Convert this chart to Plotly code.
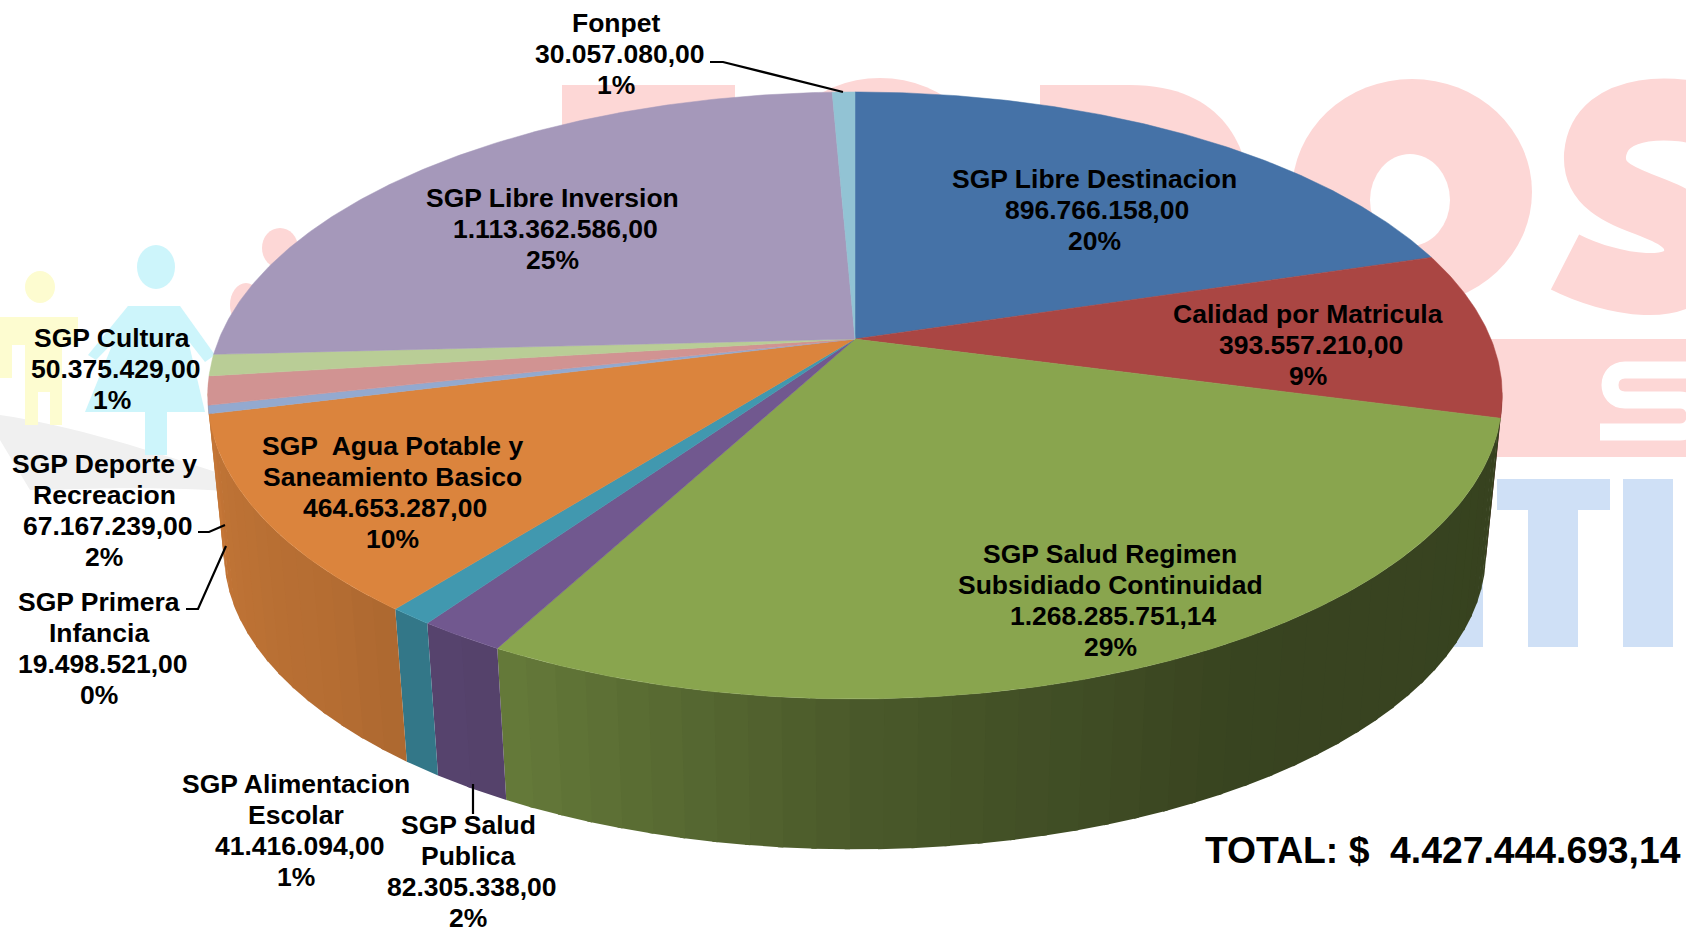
import math
import plotly.graph_objects as go

categories = ["SGP Libre Destinacion", "Calidad por Matricula", "SGP Salud Regimen Subsidiado Continuidad",
              "SGP Salud Publica", "SGP Alimentacion Escolar", "SGP Agua Potable y Saneamiento Basico",
              "SGP Primera Infancia", "SGP Deporte y Recreacion", "SGP Cultura", "SGP Libre Inversion", "Fonpet"]
values = [896766158.00, 393557210.00, 1268285751.14, 82305338.00, 41416094.00, 464653287.00,
          19498521.00, 67167239.00, 50375429.00, 1113362586.00, 30057080.00]
colors = ["#4572A7", "#AA4643", "#89A54E", "#71588F", "#4198AF", "#DB843D",
          "#93A9CF", "#D19392", "#B9CD96", "#A598BA", "#92C3D4"]
label_lines = [
    ["SGP Libre Destinacion", "896.766.158,00", "20%"],
    ["Calidad por Matricula", "393.557.210,00", "9%"],
    ["SGP Salud Regimen", "Subsidiado Continuidad", "1.268.285.751,14", "29%"],
    ["SGP Salud", "Publica", "82.305.338,00", "2%"],
    ["SGP Alimentacion", "Escolar", "41.416.094,00", "1%"],
    ["SGP\u00a0 Agua Potable y", "Saneamiento Basico", "464.653.287,00", "10%"],
    ["SGP Primera", "Infancia", "19.498.521,00", "0%"],
    ["SGP Deporte y", "Recreacion", "67.167.239,00", "2%"],
    ["SGP Cultura", "50.375.429,00", "1%"],
    ["SGP Libre Inversion", "1.113.362.586,00", "25%"],
    ["Fonpet", "30.057.080,00", "1%"],
]
label_centres = [(1094, 210), (1308, 345), (1110, 600), (468, 871), (296, 830), (392, 492),
                 (99, 648), (104, 510), (112, 369), (552, 229), (616, 54)]
total_text = "TOTAL: $\u00a0 4.427.444.693,14"

PINK, BLUE, CYAN, YELLOW, GREY = "#FDD7D6", "#CFE0F6", "#CDF5FB", "#FDFCD0", "#F0F0F0"
K = 0.186
LAST_SIDE_SLICE = 5  # the orange wall runs out to the silhouette; thinner slices behind it are not seen


def top(t):
    r = math.radians(t)
    d = 1 + K * math.cos(r)
    return 855 + 636 * math.sin(r) / d, 339 - 293 * math.cos(r) / d


def bottom(t):
    r = math.radians(t)
    d = 1 + K * math.cos(r)
    return 855 + 620 * math.sin(r) / d, 498 - 286 * math.cos(r) / d


def shade(t):
    pts = [(100, .40), (150, .41), (180, .54), (208, .74), (225, .82), (262, .90)]
    for (a, fa), (b, fb) in zip(pts, pts[1:]):
        if a <= t <= b:
            return fa + (fb - fa) * (t - a) / (b - a)
    return .9


def mix(c, f):
    return "rgb(%d,%d,%d)" % tuple(round(int(c[i:i + 2], 16) * f) for i in (1, 3, 5))


def rng(a, b, step):
    n = max(2, int(abs(b - a) / step) + 2)
    return [a + (b - a) * i / (n - 1) for i in range(n)]


fig = go.Figure()
total = sum(values)
edges = [0]
for v in values:
    edges.append(edges[-1] + v / total * 360)

# side wall, painted in thin strips that overlap so no seams show
for i, c in enumerate(colors[:LAST_SIDE_SLICE + 1]):
    a = max(edges[i], 100)
    b = 262 if i == LAST_SIDE_SLICE else edges[i + 1]
    if a >= b:
        continue
    n = max(1, int((b - a) / 2.5))
    for j in range(n):
        t0, t1 = a + (b - a) * j / n, a + (b - a) * (j + 1) / n
        ts = rng(t0, min(t1 + 0.4, b), 0.6)
        p = [top(t) for t in ts] + [bottom(t) for t in reversed(ts)]
        col = mix(c, shade((t0 + t1) / 2))
        fig.add_trace(go.Scatter(x=[q[0] for q in p], y=[q[1] for q in p], mode="lines", fill="toself",
                                 fillcolor=col, line=dict(color=col, width=0), hoverinfo="skip", showlegend=False))

# top face
for i, c in enumerate(colors):
    p = [top(t) for t in rng(edges[i], edges[i + 1], 0.5)]
    xs = [855] + [q[0] for q in p] + [855]
    ys = [339] + [q[1] for q in p] + [339]
    fig.add_trace(go.Scatter(x=xs, y=ys, mode="lines", fill="toself", fillcolor=c, name=categories[i],
                             line=dict(color=c, width=0.5), hoverinfo="name", showlegend=False))

# leader lines
for lx, ly in [([710, 723, 843], [62, 62, 92]), ([198, 209, 225], [532, 532, 525]),
               ([186, 198, 226], [609, 609, 546]), ([473, 473], [784, 814])]:
    fig.add_trace(go.Scatter(x=lx, y=ly, mode="lines", line=dict(color="#000", width=2.2),
                             hoverinfo="skip", showlegend=False))

ann = []
FONT = dict(family="Liberation Sans", size=26.5, color="#000", weight="bold")
for lines, (cx, cy) in zip(label_lines, label_centres):
    for k, t in enumerate(lines):
        is_amount = "," in t
        ann.append(dict(x=cx + (3 if is_amount else 0), y=cy + (k - (len(lines) - 1) / 2) * 31,
                        xref="x", yref="y", text=t, showarrow=False, font=FONT,
                        xanchor="center", yanchor="middle"))
ann.append(dict(x=1443, y=850, xref="x", yref="y", text=total_text, showarrow=False,
                font=dict(family="Liberation Sans", size=37.3, color="#000", weight="bold"),
                xanchor="center", yanchor="middle"))


def rect(x0, y0, x1, y1, c):
    return dict(type="rect", x0=x0, y0=y0, x1=x1, y1=y1, fillcolor=c, line_width=0, layer="below")


def circ(cx, cy, rx, ry, c):
    return dict(type="circle", x0=cx - rx, y0=cy - ry, x1=cx + rx, y1=cy + ry, fillcolor=c, line_width=0, layer="below")


def path(d, fill=None, stroke=None, w=0):
    s = dict(type="path", path=d, layer="below", line=dict(width=w, color=stroke or "rgba(0,0,0,0)"))
    s["fillcolor"] = fill or "rgba(0,0,0,0)"
    return s


shapes = [
    # grey swoosh
    path("M 0 415 C 70 425 150 450 240 480 L 240 492 C 150 485 70 490 30 490 L 0 440 Z", fill=GREY),
    # yellow figure
    circ(40, 287, 15, 16, YELLOW), rect(0, 317, 78, 345, YELLOW), rect(0, 345, 12, 378, YELLOW),
    rect(25, 345, 62, 392, YELLOW), rect(25, 392, 38, 425, YELLOW), rect(50, 392, 62, 425, YELLOW),
    # cyan figure
    circ(156, 267, 19, 22, CYAN),
    path("M 128 306 L 180 306 L 205 412 L 85 412 Z", fill=CYAN), rect(145, 412, 167, 455, CYAN),
    path("M 128 306 L 88 355 L 96 360 L 135 320 Z", fill=CYAN),
    path("M 180 306 L 215 355 L 205 362 L 172 320 Z", fill=CYAN),
    # pink figures
    circ(280, 248, 18, 20, PINK), circ(246, 305, 16, 22, PINK),
    # TODOS
    rect(562, 85, 735, 150, PINK), rect(610, 85, 690, 320, PINK),
    circ(880, 200, 122, 122, PINK), circ(880, 200, 40, 48, "#FFFFFF"),
    path("M 1040 85 L 1130 85 C 1225 85 1250 150 1250 200 C 1250 260 1220 315 1130 315 L 1040 315 Z", fill=PINK),
    path("M 1120 150 L 1135 150 C 1160 150 1170 175 1170 200 C 1170 230 1160 250 1135 250 L 1120 250 Z", fill="#FFFFFF"),
    circ(1412, 192, 120, 113, PINK), circ(1410, 200, 40, 46, "#FFFFFF"),
    path("M 1715 118 C 1680 105 1600 100 1595 155 C 1592 215 1700 195 1695 255 C 1690 300 1610 285 1565 262",
         stroke=PINK, w=62),
    # band
    rect(1250, 339, 1686, 457, PINK),
    path("M 1700 370 L 1625 370 C 1605 370 1605 400 1625 400 L 1680 400 C 1700 400 1700 432 1680 432 L 1600 432",
         stroke="#FFFFFF", w=17),
    # ATI
    path("M 1420 647 L 1483 647 L 1483 500 L 1440 500 Z", fill=BLUE),
    rect(1497, 479, 1610, 510, BLUE), rect(1528, 479, 1578, 647, BLUE), rect(1623, 479, 1673, 647, BLUE),
]

fig.update_layout(
    width=1686, height=934, margin=dict(l=0, r=0, t=0, b=0), paper_bgcolor="#FFFFFF", plot_bgcolor="#FFFFFF",
    xaxis=dict(range=[0, 1686], visible=False, fixedrange=True),
    yaxis=dict(range=[934, 0], visible=False, fixedrange=True),
    annotations=ann, shapes=shapes, showlegend=False,
)
fig.write_html("out.html", config=dict(displayModeBar=False),
               post_script="document.body.style.margin='0';document.documentElement.style.overflow='hidden';")
